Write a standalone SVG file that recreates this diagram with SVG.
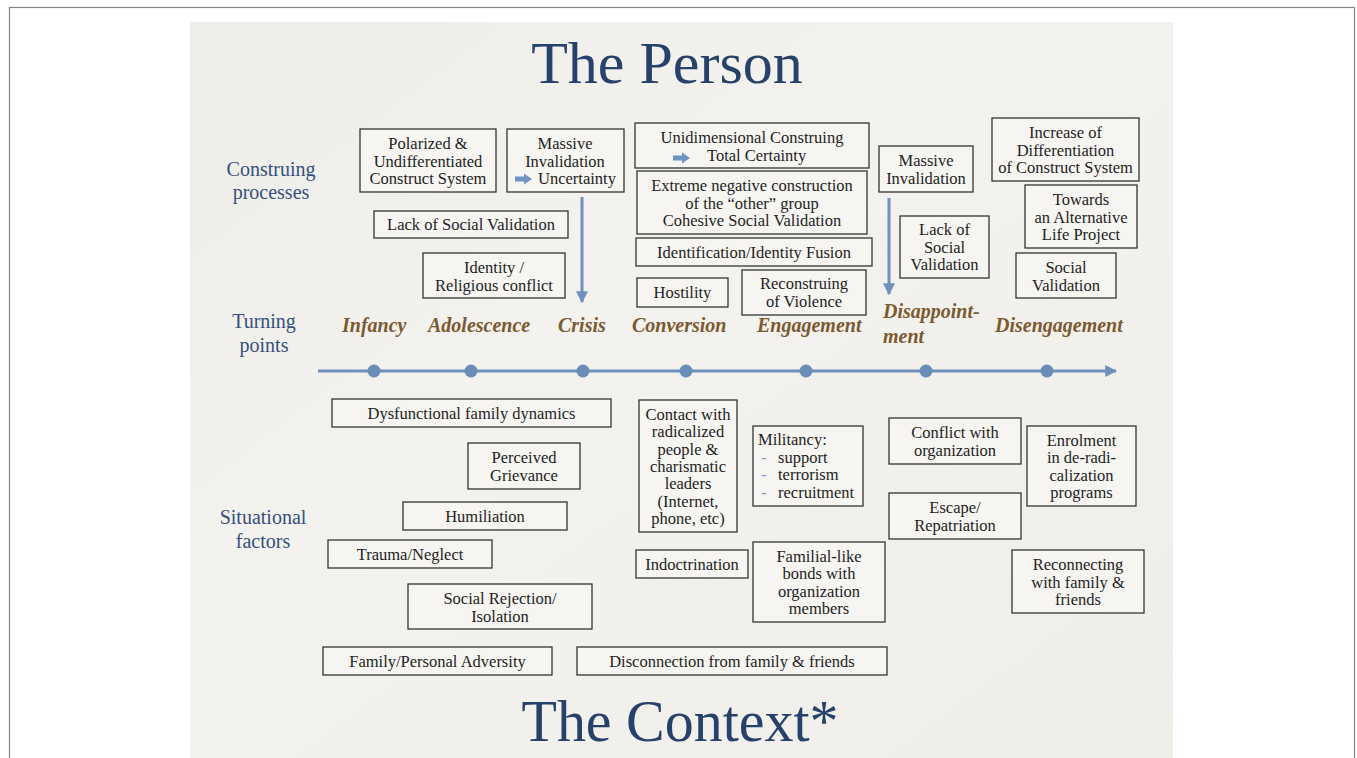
<svg xmlns="http://www.w3.org/2000/svg" width="1357" height="758" viewBox="0 0 1357 758">
<defs>
<linearGradient id="paper" x1="0" y1="0" x2="1" y2="1">
<stop offset="0" stop-color="#eeede8"/>
<stop offset="0.4" stop-color="#f3f2ee"/>
<stop offset="1" stop-color="#f0eee9"/>
</linearGradient>
<marker id="ah" viewBox="0 0 10 10" refX="9" refY="5" markerWidth="4" markerHeight="4" orient="auto" markerUnits="strokeWidth">
<path d="M0,0 L10,5 L0,10 Z" fill="#6f91bd"/>
</marker>
<path id="sarrow" d="M0,-2.5 L9,-2.5 L9,-5.5 L17,0 L9,5.5 L9,2.5 L0,2.5 Z" fill="#6f93c2"/>
</defs>
<style>
.box{fill:#f6f5f1;stroke:#333;stroke-width:1.3}
.t{font-family:"Liberation Serif","Times New Roman",serif;font-size:16.5px;fill:#1e1e1e;text-anchor:middle}
.ts{font-family:"Liberation Serif","Times New Roman",serif;font-size:16.5px;fill:#1e1e1e}
.side{font-family:"Liberation Serif","Times New Roman",serif;font-size:20px;fill:#34517d;text-anchor:middle}
.tp{font-family:"Liberation Serif","Times New Roman",serif;font-size:20px;font-style:italic;font-weight:bold;fill:#7b5a30}
.title{font-family:"Liberation Serif","Times New Roman",serif;font-size:60px;fill:#27426a;text-anchor:middle}
.conn{stroke:#6f91bd;stroke-width:3;fill:none}
.dot{fill:#6a8cb8}
.dash{font-family:"Liberation Serif",serif;font-size:16.5px;fill:#7d9cc6}
</style>
<rect x="9.5" y="7.5" width="1345" height="760" fill="#ffffff" stroke="#858585" stroke-width="1.2"/>
<rect x="190" y="22" width="983" height="740" fill="url(#paper)"/>

<text class="title" x="667" y="83">The Person</text>
<text class="title" x="680" y="741" textLength="317" lengthAdjust="spacingAndGlyphs">The Context*</text>

<text class="side" x="271" y="176">Construing</text>
<text class="side" x="271" y="199">processes</text>
<text class="side" x="264" y="328">Turning</text>
<text class="side" x="264" y="352">points</text>
<text class="side" x="263" y="524">Situational</text>
<text class="side" x="263" y="548">factors</text>

<g id="connectors">
<line class="conn" x1="582" y1="197" x2="582" y2="302" marker-end="url(#ah)"/>
<line class="conn" x1="889" y1="198" x2="889" y2="294" marker-end="url(#ah)"/>
<line class="conn" x1="318" y1="371" x2="1116" y2="371" marker-end="url(#ah)"/>
<circle class="dot" cx="374" cy="371" r="6.5"/>
<circle class="dot" cx="471" cy="371" r="6.5"/>
<circle class="dot" cx="583" cy="371" r="6.5"/>
<circle class="dot" cx="686" cy="371" r="6.5"/>
<circle class="dot" cx="806" cy="371" r="6.5"/>
<circle class="dot" cx="926" cy="371" r="6.5"/>
<circle class="dot" cx="1047" cy="371" r="6.5"/>
</g>

<g id="turning-points">
<text class="tp" x="342" y="332">Infancy</text>
<text class="tp" x="428" y="332">Adolescence</text>
<text class="tp" x="558" y="332">Crisis</text>
<text class="tp" x="632" y="332">Conversion</text>
<text class="tp" x="757" y="332">Engagement</text>
<text class="tp" x="883" y="318">Disappoint-</text>
<text class="tp" x="883" y="343">ment</text>
<text class="tp" x="995" y="332">Disengagement</text>
</g>

<g id="polarized">
<rect class="box" x="360" y="129" width="136" height="63"/>
<text class="t" x="428" y="149">Polarized &amp;</text>
<text class="t" x="428" y="166.5">Undifferentiated</text>
<text class="t" x="428" y="184">Construct System</text>
</g>
<g id="massive-invalidation-1">
<rect class="box" x="507" y="129" width="117" height="63"/>
<text class="t" x="565" y="149">Massive</text>
<text class="t" x="565" y="166.5">Invalidation</text>
<use href="#sarrow" x="515" y="179"/>
<text class="ts" x="538" y="184">Uncertainty</text>
</g>
<g id="lack-social-validation-1">
<rect class="box" x="374" y="211" width="194" height="27"/>
<text class="t" x="471" y="230">Lack of Social Validation</text>
</g>
<g id="identity-conflict">
<rect class="box" x="423" y="253" width="142" height="45"/>
<text class="t" x="494" y="273">Identity /</text>
<text class="t" x="494" y="290.5">Religious conflict</text>
</g>
<g id="unidimensional">
<rect class="box" x="635" y="123" width="234" height="45"/>
<text class="t" x="752" y="143">Unidimensional Construing</text>
<use href="#sarrow" x="673" y="158"/>
<text class="ts" x="707" y="160.5">Total Certainty</text>
</g>
<g id="extreme-negative">
<rect class="box" x="637" y="171" width="230" height="63"/>
<text class="t" x="752" y="191">Extreme negative construction</text>
<text class="t" x="752" y="208.5">of the “other” group</text>
<text class="t" x="752" y="226">Cohesive Social Validation</text>
</g>
<g id="identification">
<rect class="box" x="636" y="238" width="236" height="28"/>
<text class="t" x="754" y="258">Identification/Identity Fusion</text>
</g>
<g id="hostility">
<rect class="box" x="637" y="278" width="91" height="29"/>
<text class="t" x="682.5" y="298">Hostility</text>
</g>
<g id="reconstruing">
<rect class="box" x="742" y="270" width="124" height="45"/>
<text class="t" x="804" y="289">Reconstruing</text>
<text class="t" x="804" y="306.5">of Violence</text>
</g>
<g id="massive-invalidation-2">
<rect class="box" x="879" y="146" width="94" height="46"/>
<text class="t" x="926" y="166">Massive</text>
<text class="t" x="926" y="183.5">Invalidation</text>
</g>
<g id="lack-social-validation-2">
<rect class="box" x="900" y="216" width="89" height="62"/>
<text class="t" x="944.5" y="235">Lack of</text>
<text class="t" x="944.5" y="252.5">Social</text>
<text class="t" x="944.5" y="270">Validation</text>
</g>
<g id="increase-differentiation">
<rect class="box" x="992" y="118" width="147" height="63"/>
<text class="t" x="1065.5" y="138">Increase of</text>
<text class="t" x="1065.5" y="155.5">Differentiation</text>
<text class="t" x="1065.5" y="173">of Construct System</text>
</g>
<g id="alternative-life">
<rect class="box" x="1025" y="185" width="112" height="63"/>
<text class="t" x="1081" y="205">Towards</text>
<text class="t" x="1081" y="222.5">an Alternative</text>
<text class="t" x="1081" y="240">Life Project</text>
</g>
<g id="social-validation">
<rect class="box" x="1016" y="253" width="100" height="45"/>
<text class="t" x="1066" y="273">Social</text>
<text class="t" x="1066" y="290.5">Validation</text>
</g>

<g id="dysfunctional">
<rect class="box" x="332" y="399" width="279" height="28"/>
<text class="t" x="471.5" y="419">Dysfunctional family dynamics</text>
</g>
<g id="grievance">
<rect class="box" x="468" y="443" width="112" height="46"/>
<text class="t" x="524" y="463">Perceived</text>
<text class="t" x="524" y="480.5">Grievance</text>
</g>
<g id="humiliation">
<rect class="box" x="403" y="502" width="164" height="28"/>
<text class="t" x="485" y="522">Humiliation</text>
</g>
<g id="trauma">
<rect class="box" x="328" y="540" width="164" height="28"/>
<text class="t" x="410" y="560">Trauma/Neglect</text>
</g>
<g id="social-rejection">
<rect class="box" x="408" y="584" width="184" height="45"/>
<text class="t" x="500" y="604">Social Rejection/</text>
<text class="t" x="500" y="621.5">Isolation</text>
</g>
<g id="adversity">
<rect class="box" x="323" y="647" width="229" height="28"/>
<text class="t" x="437.5" y="667">Family/Personal Adversity</text>
</g>
<g id="disconnection">
<rect class="box" x="577" y="647" width="310" height="28"/>
<text class="t" x="732" y="667">Disconnection from family &amp; friends</text>
</g>
<g id="contact">
<rect class="box" x="639" y="400" width="98" height="132"/>
<text class="t" x="688" y="420">Contact with</text>
<text class="t" x="688" y="437.3">radicalized</text>
<text class="t" x="688" y="454.6">people &amp;</text>
<text class="t" x="688" y="471.9">charismatic</text>
<text class="t" x="688" y="489.2">leaders</text>
<text class="t" x="688" y="506.5">(Internet,</text>
<text class="t" x="688" y="523.8">phone, etc)</text>
</g>
<g id="militancy">
<rect class="box" x="753" y="426" width="110" height="80"/>
<text class="ts" x="758" y="445">Militancy:</text>
<text class="dash" x="761" y="462.5">-</text>
<text class="ts" x="778" y="462.5">support</text>
<text class="dash" x="761" y="480">-</text>
<text class="ts" x="778" y="480">terrorism</text>
<text class="dash" x="761" y="497.5">-</text>
<text class="ts" x="778" y="497.5">recruitment</text>
</g>
<g id="indoctrination">
<rect class="box" x="636" y="550" width="112" height="28"/>
<text class="t" x="692" y="570">Indoctrination</text>
</g>
<g id="familial-bonds">
<rect class="box" x="753" y="542" width="132" height="80"/>
<text class="t" x="819" y="562">Familial-like</text>
<text class="t" x="819" y="579.3">bonds with</text>
<text class="t" x="819" y="596.6">organization</text>
<text class="t" x="819" y="613.9">members</text>
</g>
<g id="conflict-organization">
<rect class="box" x="889" y="418" width="132" height="46"/>
<text class="t" x="955" y="438">Conflict with</text>
<text class="t" x="955" y="455.5">organization</text>
</g>
<g id="escape">
<rect class="box" x="889" y="493" width="132" height="46"/>
<text class="t" x="955" y="513">Escape/</text>
<text class="t" x="955" y="530.5">Repatriation</text>
</g>
<g id="enrolment">
<rect class="box" x="1027" y="426" width="109" height="80"/>
<text class="t" x="1081.5" y="446">Enrolment</text>
<text class="t" x="1081.5" y="463.3">in de-radi-</text>
<text class="t" x="1081.5" y="480.6">calization</text>
<text class="t" x="1081.5" y="497.9">programs</text>
</g>
<g id="reconnecting">
<rect class="box" x="1012" y="550" width="132" height="63"/>
<text class="t" x="1078" y="570">Reconnecting</text>
<text class="t" x="1078" y="587.5">with family &amp;</text>
<text class="t" x="1078" y="605">friends</text>
</g>
</svg>
